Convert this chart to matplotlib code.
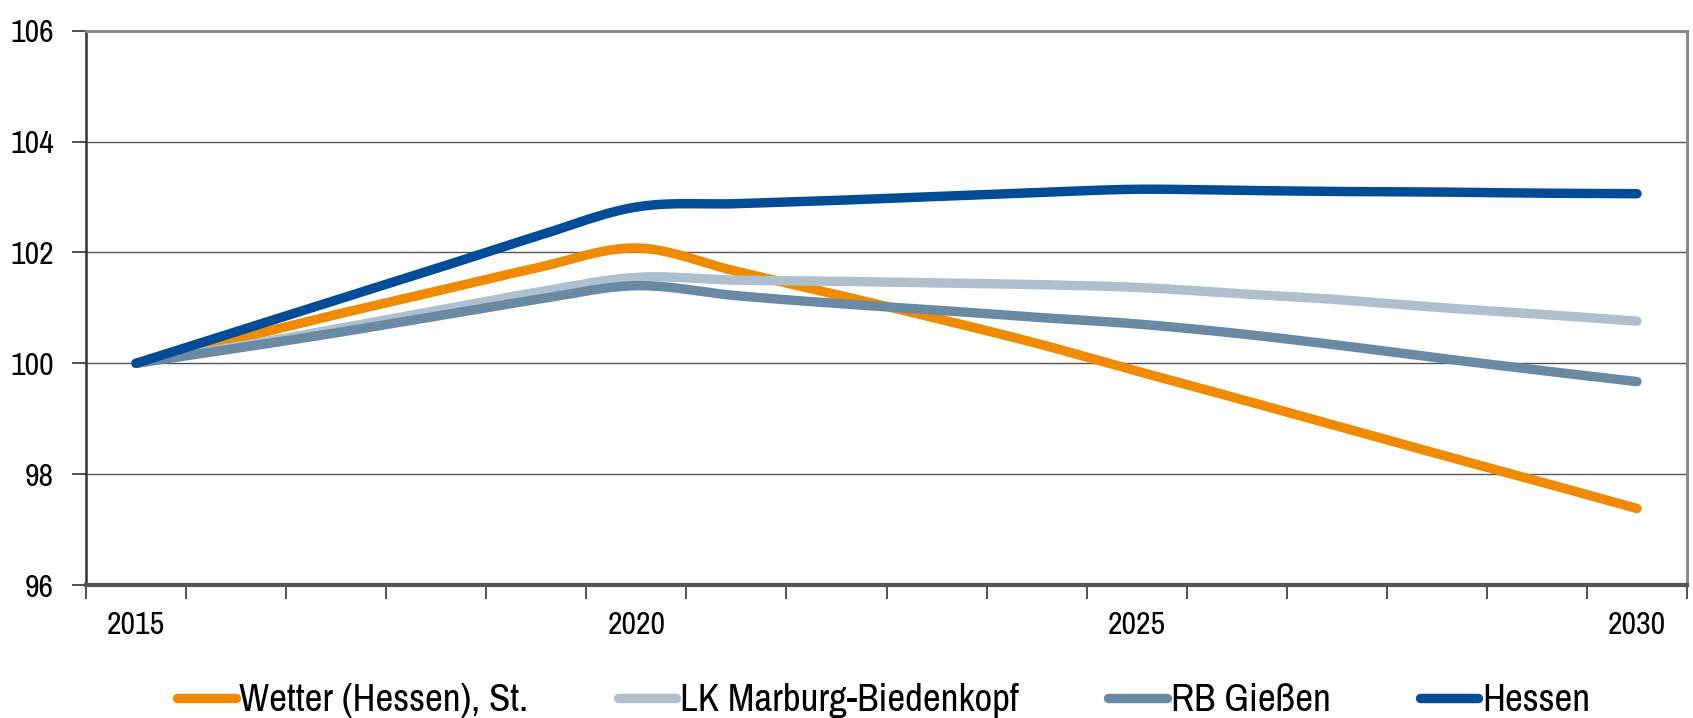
# Bevölkerungsentwicklung (Index 2015 = 100)
import numpy as np
import matplotlib
matplotlib.use("Agg")
import matplotlib.pyplot as plt

# Data
years = list(range(2015, 2031))
year_labels = ["2015", "2020", "2025", "2030"]
names = ["Wetter (Hessen), St.", "LK Marburg-Biedenkopf", "RB Gießen", "Hessen"]
wetter = [100, 100.44, 100.88, 101.30, 101.72, 102.08, 101.66, 101.24,
          100.81, 100.36, 99.86, 99.37, 98.87, 98.37, 97.88, 97.38]
lk_marburg = [100, 100.30, 100.62, 100.95, 101.28, 101.55, 101.50, 101.48,
              101.45, 101.42, 101.37, 101.26, 101.15, 101.01, 100.89, 100.76]
rb_giessen = [100, 100.27, 100.55, 100.85, 101.15, 101.40, 101.22, 101.08,
              100.96, 100.83, 100.71, 100.54, 100.33, 100.10, 99.88, 99.67]
hessen = [100, 100.57, 101.14, 101.71, 102.29, 102.82, 102.88, 102.94,
          103.01, 103.08, 103.14, 103.12, 103.10, 103.09, 103.07, 103.06]

colors = ["#F08A00", "#AEBFCD", "#6A89A3", "#004C97"]

plt.rcParams['font.family'] = ['Archivo Narrow', 'DejaVu Sans']


def smooth(x, y, steps=24):
    # Excel-style smoothed line (Bezier through the points)
    x = np.asarray(x, float)
    y = np.asarray(y, float)
    px = np.concatenate([[x[0]], x, [x[-1]]])
    py = np.concatenate([[y[0]], y, [y[-1]]])
    t = np.linspace(0, 1, steps)[:-1]
    out_x, out_y = [], []
    for i in range(1, len(px) - 2):
        p0, p1, p2, p3 = (np.array([px[j], py[j]]) for j in (i - 1, i, i + 1, i + 2))
        c1 = p1 + (p2 - p0) / 6.0
        c2 = p2 - (p3 - p1) / 6.0
        for tt in t:
            b = ((1 - tt) ** 3) * p1 + 3 * ((1 - tt) ** 2) * tt * c1 \
                + 3 * (1 - tt) * tt ** 2 * c2 + tt ** 3 * p2
            out_x.append(b[0])
            out_y.append(b[1])
    out_x.append(x[-1])
    out_y.append(y[-1])
    return out_x, out_y


fig = plt.figure(figsize=(16.93, 7.18), dpi=100)
ax = fig.add_axes([0.0508, 0.1852, 0.9457, 0.772])

pos = np.arange(len(years))
for vals, name, c in zip([wetter, lk_marburg, rb_giessen, hessen], names, colors):
    sx, sy = smooth(pos, vals)
    ax.plot(sx, sy, color=c, lw=6.8, solid_capstyle='round', label=name)

ax.set_xlim(-0.5, len(years) - 0.5)
ax.set_ylim(96, 106)
ax.set_yticks([96, 98, 100, 102, 104, 106])
ax.yaxis.grid(True, color='#555555', lw=1.0)
ax.set_axisbelow(True)

# category axis: ticks between years, labels every 5 years
ax.set_xticks(np.arange(-0.5, len(years), 1.0))
ax.set_xticklabels([])
ax.set_xticks([years.index(int(l)) for l in year_labels], minor=True)
ax.set_xticklabels(year_labels, minor=True)
ax.tick_params(axis='x', which='major', length=10, width=1.2, color='#333333', direction='out')
ax.tick_params(axis='x', which='minor', length=0, pad=19, labelsize=23)
ax.tick_params(axis='y', length=10, width=1.2, color='#333333', pad=13, labelsize=23)

for s in ['top', 'right']:
    ax.spines[s].set_color('#8A8A8A')
    ax.spines[s].set_linewidth(2.2)
ax.spines['left'].set_color('#333333')
ax.spines['left'].set_linewidth(1.8)
ax.spines['bottom'].set_color('#555555')
ax.spines['bottom'].set_linewidth(3)

fig.legend(loc='center', bbox_to_anchor=(0.522, 0.024), ncol=4, frameon=False,
           fontsize=28, handlelength=1.5, handletextpad=0.1, columnspacing=2.3,
           borderpad=0)

fig.savefig('out.png', dpi=100)
